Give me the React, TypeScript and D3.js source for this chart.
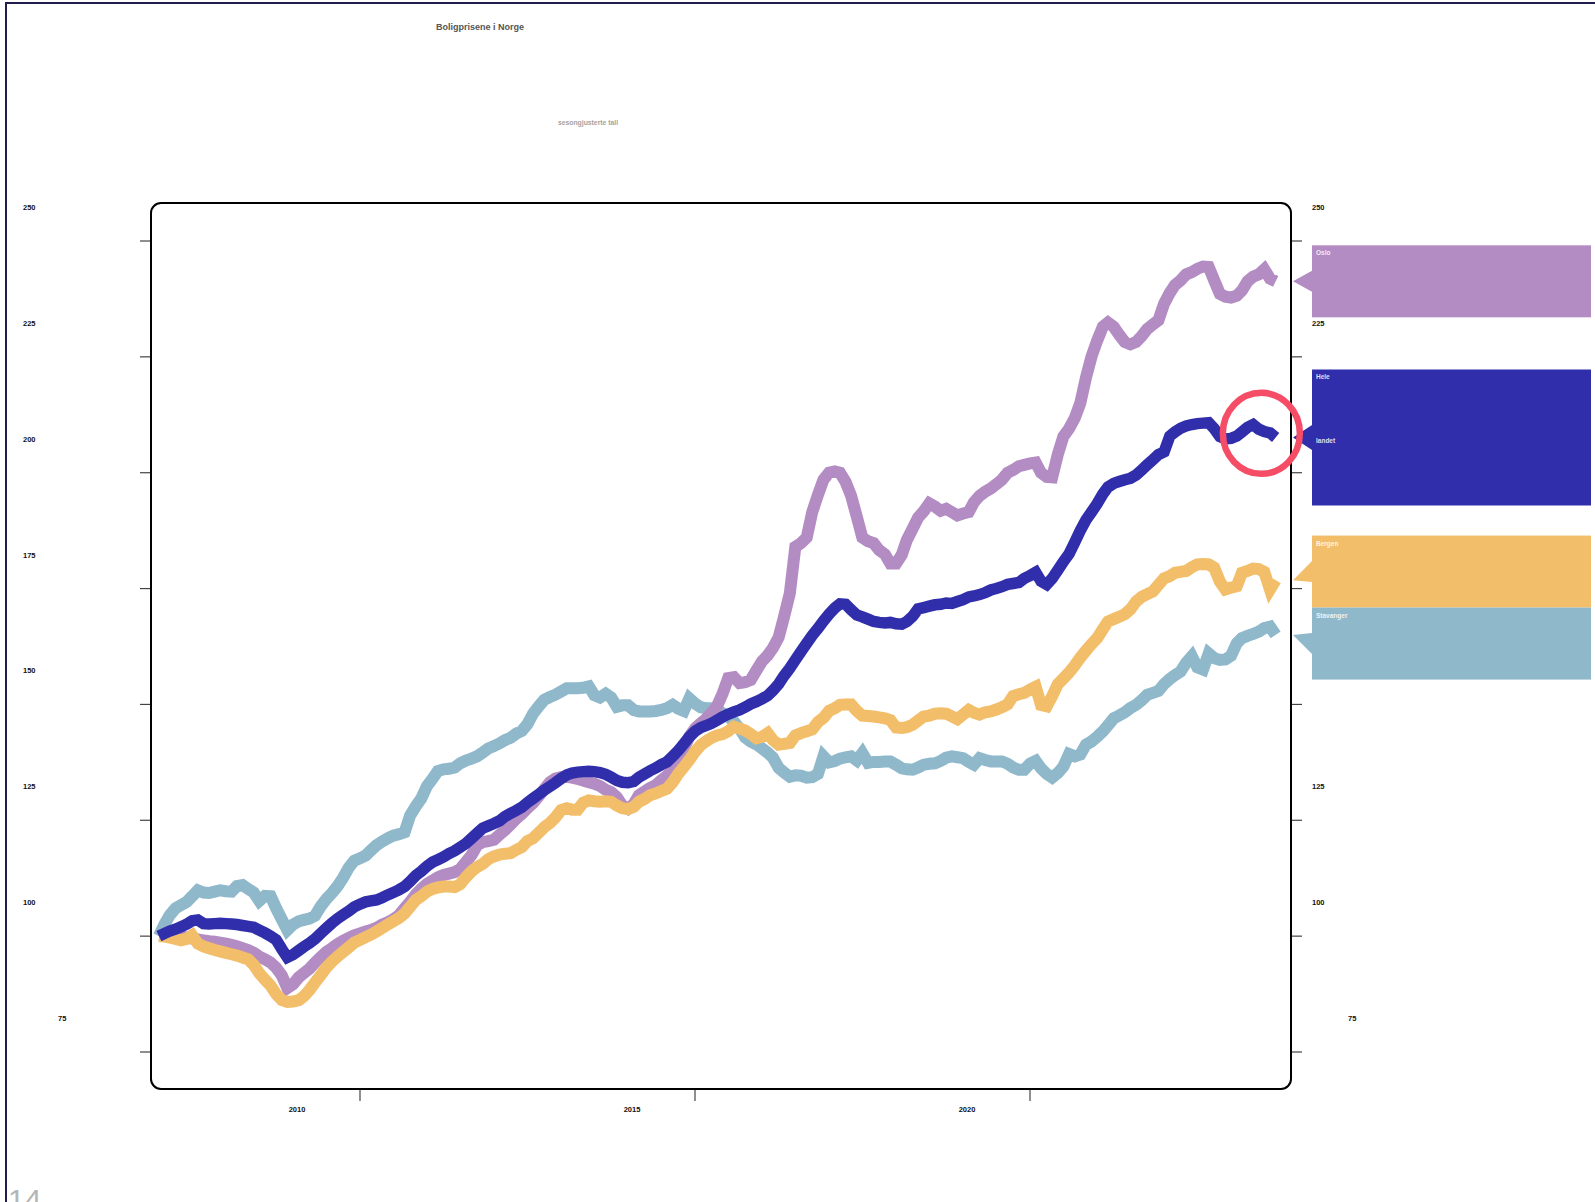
import React from "react";
import * as d3 from "d3";

// Monthly house price index, January 2007 = 100, seasonally adjusted.
const firstYear = 2007;
const titleText = "Boligprisene i Norge";
const subtitleText = "sesongjusterte tall";
const pageNumber = "14";

const oslo = [
  100.0, 100.3, 100.0, 99.8, 99.9, 99.7, 99.5, 99.3, 99.1, 98.9, 98.8, 98.6,
  98.4, 98.1, 97.8, 97.4, 97.0, 96.4, 95.6, 95.0, 94.3, 93.2, 91.5, 88.8,
  89.6, 91.1, 92.0, 93.0, 94.3, 95.5, 96.6, 97.4, 98.3, 99.0, 99.6, 100.2,
  100.6, 101.0, 101.3, 101.8, 102.5, 103.0, 103.6, 104.5, 106.0, 107.4, 109.0, 110.2,
  111.3, 112.0, 112.7, 113.2, 113.5, 113.8, 114.5, 116.0, 117.5, 119.6, 120.3, 120.5,
  120.8, 121.9, 122.9, 124.1, 125.3, 126.4, 127.6, 128.7, 130.2, 131.7, 133.2, 134.0,
  134.3, 134.4, 134.2, 133.9, 133.6, 133.2, 132.9, 132.4, 131.6, 131.1, 130.0, 128.2,
  127.5, 128.5, 130.4, 131.2, 132.0, 132.6, 133.6, 134.6, 136.2, 137.8, 140.5, 143.0,
  144.8, 145.9, 146.8, 148.2, 149.6, 152.4, 155.7, 155.9, 154.6, 154.8, 155.3, 157.3,
  159.3, 160.6, 162.2, 164.5, 169.0, 174.0, 184.0, 184.8, 186.0, 191.5, 195.2, 198.5,
  200.0, 200.3, 200.0, 198.0, 195.0, 190.5, 186.0, 185.2, 184.8, 183.3, 182.4, 180.4,
  180.4, 182.3, 185.5, 187.9, 190.3, 191.7, 193.4, 192.7, 191.8, 192.2, 191.5, 190.8,
  191.2, 191.5, 193.6, 195.0, 195.9, 196.6, 197.5, 198.5, 200.0, 200.6, 201.4, 201.7,
  202.0, 202.2, 200.0, 199.1, 199.0, 204.0, 207.8, 209.5, 211.8, 215.0, 220.5, 225.0,
  228.5, 231.5, 232.4, 231.5, 229.8, 228.2, 227.7, 228.2, 229.5, 231.0, 232.0, 232.9,
  236.5, 238.8, 240.5, 241.5, 242.8, 243.3, 244.0, 244.5, 244.4, 241.5, 238.6, 238.0,
  237.8, 238.2, 239.3, 241.3, 242.3, 242.8, 243.9, 241.9, 241.3,
];

const heleLandet = [
  100.0, 100.6, 101.1, 101.5, 102.0, 102.6, 103.3, 103.5, 102.7, 102.6, 102.7, 102.8,
  102.7, 102.6, 102.5, 102.3, 102.1, 101.9, 101.3, 100.7, 100.0, 99.2, 97.2, 95.4,
  96.0, 96.9, 97.7, 98.5, 99.4, 100.6, 101.7, 102.8, 103.8, 104.6, 105.4, 106.3,
  106.9, 107.4, 107.6, 107.8, 108.3, 108.9, 109.4, 110.0, 110.7, 111.8, 113.1, 114.0,
  115.1, 116.0, 116.5, 117.1, 117.8, 118.4, 119.2, 120.0, 121.1, 122.2, 123.3, 123.8,
  124.3, 124.9, 125.8, 126.5, 127.1, 127.8, 128.8, 129.7, 130.6, 131.5, 132.3, 133.1,
  134.0, 134.8, 135.2, 135.4, 135.5, 135.6, 135.5, 135.3, 134.9, 134.3, 133.6, 133.2,
  133.1, 133.4, 134.3, 135.0, 135.7, 136.3, 137.0, 137.6, 138.8, 140.0, 141.5, 143.0,
  144.2, 145.0, 145.4, 145.9, 146.6, 147.3, 147.9, 148.4, 148.8, 149.4, 150.1, 150.6,
  151.2, 151.9, 153.0, 154.4, 156.2, 157.8, 159.6, 161.4, 163.2, 164.9, 166.4, 168.0,
  169.5, 170.8, 171.7, 171.6, 170.4, 169.3, 168.9, 168.4, 167.9, 167.7, 167.6, 167.7,
  167.4, 167.3, 167.9, 169.0, 170.6, 170.9, 171.2, 171.5, 171.6, 171.9, 171.8, 172.2,
  172.6, 173.2, 173.4, 173.7, 174.1, 174.7, 175.0, 175.4, 175.9, 176.1, 176.3, 177.2,
  177.8, 178.5, 176.6, 175.9, 177.2, 179.0, 180.8, 182.5, 185.0, 187.5, 189.8, 191.5,
  193.3, 195.4, 196.9, 197.7, 198.1, 198.5, 198.8, 199.5, 200.6, 201.7, 202.8, 203.9,
  204.5, 207.9, 208.8, 209.6, 210.1, 210.4, 210.6, 210.7, 210.8, 209.5, 207.8, 207.3,
  207.4, 207.9, 208.8, 209.8, 210.4, 209.4, 208.9, 208.6, 207.6,
];

const bergen = [
  100.0, 99.9, 99.7, 99.4, 99.1, 99.4, 100.2, 98.4, 97.8, 97.4, 97.0, 96.7,
  96.4, 96.1, 95.8, 95.4, 95.0, 93.8, 92.0, 90.6, 89.3, 87.5, 86.2, 85.8,
  85.9, 86.2, 87.0, 88.4, 90.0, 91.6, 93.2, 94.5, 95.6, 96.6, 97.6, 98.6,
  99.2, 99.8, 100.3, 101.0, 101.7, 102.5, 103.2, 103.9, 104.9, 106.3, 107.8, 108.6,
  109.6, 110.2, 110.5, 110.7, 110.7, 110.6, 111.2, 112.7, 114.0, 114.9, 115.6, 116.6,
  117.2, 117.6, 117.8, 117.9, 118.6, 119.2, 120.5, 121.1, 122.3, 123.5, 124.4, 125.6,
  127.2, 127.6, 127.3, 127.3, 128.8, 129.3, 129.1, 129.0, 129.1, 129.0, 128.2, 127.6,
  127.4, 127.9, 129.0, 129.6, 130.4, 130.8, 131.3, 131.8, 133.2, 135.0, 136.5, 138.0,
  139.8, 141.2, 142.0, 142.8, 143.3, 143.6, 144.2, 145.2, 144.8, 144.4, 143.6, 142.7,
  143.0, 143.8, 142.3, 141.3, 141.5, 141.7, 143.3, 143.8, 144.2, 144.6, 146.2, 147.1,
  148.6, 149.2, 149.9, 150.0, 150.0, 148.6, 147.6, 147.5, 147.4, 147.2, 147.0, 146.6,
  145.0, 144.9, 145.1, 145.6, 146.5, 147.4, 147.6, 148.0, 148.1, 148.0, 147.4, 146.8,
  147.8, 148.8, 148.2, 147.8, 148.3, 148.5, 148.9, 149.4, 150.0, 151.8, 152.2, 152.5,
  153.2, 153.8, 149.9, 149.6, 151.8, 154.4, 155.6, 156.9, 158.4, 160.1, 161.6, 163.0,
  164.3, 166.2, 167.9, 168.4, 168.9, 169.5, 170.5, 172.2, 173.2, 173.8, 174.4, 175.8,
  177.2, 177.7, 178.4, 178.6, 178.8, 179.6, 180.2, 180.3, 180.2, 179.5, 176.5, 174.8,
  175.2, 175.5, 178.4, 178.8, 179.3, 179.2, 178.6, 174.8, 176.8,
];

const stavanger = [
  100.0, 102.6, 104.5, 106.0, 106.7, 107.4, 108.6, 109.9, 109.4, 109.3, 109.6, 109.9,
  109.7, 109.6, 110.8, 111.0, 110.2, 109.4, 107.6, 108.7, 108.6, 106.0, 103.6, 101.3,
  102.5, 103.2, 103.5, 103.8, 104.4, 106.4, 108.0, 109.3, 110.8, 112.6, 114.8, 116.3,
  116.8, 117.4, 118.5, 119.6, 120.4, 121.1, 121.7, 122.0, 122.4, 126.0, 128.0, 129.7,
  132.4, 134.0, 135.6, 136.0, 136.1, 136.4, 137.3, 137.9, 138.3, 138.8, 139.6, 140.5,
  141.0, 141.6, 142.3, 142.8, 143.7, 144.3, 145.7, 148.0, 149.6, 151.0, 151.6, 152.1,
  152.8, 153.5, 153.5, 153.5, 153.6, 153.9, 152.0, 151.5, 152.3, 151.5, 149.5, 149.8,
  149.8, 148.8, 148.5, 148.5, 148.5, 148.6, 148.8, 149.2, 149.9, 149.1, 148.6, 151.3,
  150.2, 149.4, 149.2, 149.2, 148.8, 148.1, 147.4, 146.3, 144.8, 142.9, 142.0, 141.4,
  140.5, 139.6, 138.5, 136.3, 135.3, 134.4, 134.7, 134.6, 134.2, 134.3, 135.0, 138.8,
  137.5, 137.8, 138.3, 138.6, 138.8, 137.9, 139.5, 137.4, 137.6, 137.6, 137.7, 137.7,
  137.0, 136.2, 136.0, 135.9, 136.4, 137.0, 137.2, 137.3, 137.8, 138.5, 138.8, 138.6,
  138.4, 137.6, 137.0, 138.4, 138.0, 137.7, 137.7, 137.7, 137.2, 136.4, 135.9, 135.9,
  137.2, 137.8, 136.2, 135.0, 134.2, 135.2, 136.6, 139.3, 138.8, 139.2, 141.3, 142.0,
  143.0, 144.2, 145.5, 147.0, 147.6, 148.3, 149.2, 149.9, 150.9, 152.1, 152.5, 152.9,
  154.4, 155.5, 156.3, 157.1, 159.0, 160.4, 158.0, 157.5, 161.0, 160.0, 159.6, 159.7,
  160.5, 163.2, 164.3, 164.8, 165.2, 165.7, 166.5, 166.8, 165.0,
];

const yTickValues = [75, 100, 125, 150, 175, 200, 225, 250];
const xTickYears = [2010, 2015, 2020];

// Highlight ring around the 2023 upswing of the national index.
const highlightDate = new Date(2023, 5, 15);
const highlightValue = 208.5;

const FONT = "'Liberation Sans', Arial, Helvetica, sans-serif";
const W = 1595;
const H = 1202;

type Series = { name: string; values: number[]; color: string };

export default function App() {
  // Legend order (top to bottom) and drawing order differ.
  const series: Series[] = [
    { name: "Oslo", values: oslo, color: "#b38cc3" },
    { name: "Hele landet", values: heleLandet, color: "#302eab" },
    { name: "Bergen", values: bergen, color: "#f3be69" },
    { name: "Stavanger", values: stavanger, color: "#8fb8ca" },
  ];
  const drawOrder = ["Stavanger", "Oslo", "Bergen", "Hele landet"];

  const dates = d3.range(oslo.length).map((i) => new Date(firstYear, i, 1));

  const frame = { left: 151, top: 203, right: 1291, bottom: 1089, r: 10 };

  const x = d3
    .scaleTime()
    .domain([new Date(2010, 0, 1), new Date(2020, 0, 1)])
    .range([360, 1030]);
  const y = d3.scaleLinear().domain([75, 250]).range([1052, 241]);

  const line = d3
    .line<number>()
    .x((_, i) => x(dates[i]))
    .y((v) => y(v));

  // Callout boxes on the right, nudged apart where they would overlap.
  const boxLeft = frame.right + 21;
  const boxRight = 1591;
  const tipX = frame.right + 2;
  const lineH = 64;
  const pad = 4;
  const boxes = series.map((s) => {
    const lines = s.name.split(" ");
    const h = lines.length * lineH + pad * 2;
    const tip = y(s.values[s.values.length - 1]);
    return { ...s, lines, h, tip, center: tip };
  });
  const sorted = [...boxes].sort((a, b) => a.tip - b.tip);
  for (let pass = 0; pass < 4; pass++) {
    for (let i = 1; i < sorted.length; i++) {
      const prev = sorted[i - 1];
      const cur = sorted[i];
      const overlap = prev.center + prev.h / 2 - (cur.center - cur.h / 2);
      if (overlap > 0) {
        prev.center -= overlap / 2;
        cur.center += overlap / 2;
      }
    }
  }

  return (
    <div style={{ position: "absolute", left: 0, top: 0, width: W, height: H, overflow: "hidden" }}>
      <svg width={W} height={H} style={{ display: "block", background: "#fff" }} fontFamily={FONT}>
        {/* page border */}
        <rect x={6} y={3} width={1800} height={1400} fill="none" stroke="#1f1e4c" strokeWidth={2} />

        <text x={480} y={29.5} textAnchor="middle" fontSize={9} fontWeight="bold" fill="#555">
          {titleText}
        </text>
        <text x={588} y={124.5} textAnchor="middle" fontSize={6.8} fontWeight="bold" fill="#a3a3a3">
          {subtitleText}
        </text>

        {/* y axis ticks and labels, both sides */}
        {yTickValues.map((v, i) => {
          const lowest = i === 0;
          return (
            <g key={`y${v}`}>
              <line x1={frame.left - 11} x2={frame.left} y1={y(v)} y2={y(v)} stroke="#444" strokeWidth={1.2} />
              <line x1={frame.right} x2={frame.right + 11} y1={y(v)} y2={y(v)} stroke="#444" strokeWidth={1.2} />
              <text x={lowest ? 58 : 23} y={y(v) - 31} fontSize={7.5} fontWeight="bold" fill="#111">
                {v}
              </text>
              <text x={lowest ? 1348 : 1312} y={y(v) - 31} fontSize={7.5} fontWeight="bold" fill="#111">
                {v}
              </text>
            </g>
          );
        })}

        {/* x axis ticks and labels */}
        {xTickYears.map((yr) => {
          const px = x(new Date(yr, 0, 1));
          return (
            <g key={`x${yr}`}>
              <line x1={px} x2={px} y1={frame.bottom + 1} y2={frame.bottom + 12} stroke="#444" strokeWidth={1.2} />
              <text x={px - 63} y={1112} textAnchor="middle" fontSize={7.5} fontWeight="bold" fill="#111">
                {yr}
              </text>
            </g>
          );
        })}

        {/* series lines */}
        {drawOrder.map((name) => {
          const s = series.find((d) => d.name === name)!;
          return (
            <path
              key={name}
              d={line(s.values) || ""}
              fill="none"
              stroke={s.color}
              strokeWidth={name === "Hele landet" ? 11.5 : 12}
              strokeLinejoin="miter"
              strokeMiterlimit={4}
            />
          );
        })}

        {/* plot frame */}
        <rect
          x={frame.left}
          y={frame.top}
          width={frame.right - frame.left}
          height={frame.bottom - frame.top}
          rx={frame.r}
          ry={frame.r}
          fill="none"
          stroke="#000"
          strokeWidth={2}
        />

        {/* callouts */}
        {boxes.map((b) => {
          const top = b.center - b.h / 2;
          const half = b.lines.length > 1 ? 12.5 : 10.5;
          return (
            <g key={`box${b.name}`}>
              <polygon
                points={`${boxLeft},${b.center - half} ${tipX},${b.tip} ${boxLeft},${b.center + half}`}
                fill={b.color}
              />
              <rect x={boxLeft} y={top} width={boxRight - boxLeft} height={b.h} fill={b.color} />
              {b.lines.map((t, k) => (
                <text
                  key={t}
                  x={boxLeft + 4}
                  y={top + 10 + k * lineH}
                  fontSize={6.5}
                  fontWeight="bold"
                  fill="#fff"
                  fillOpacity={0.85}
                >
                  {t}
                </text>
              ))}
            </g>
          );
        })}

        <ellipse
          cx={x(highlightDate)}
          cy={y(highlightValue)}
          rx={38.5}
          ry={40.5}
          fill="none"
          stroke="#f54d66"
          strokeWidth={6.5}
        />

        <text x={8} y={1210} fontSize={30} fill="#b5b5b5">
          {pageNumber}
        </text>
      </svg>
    </div>
  );
}
